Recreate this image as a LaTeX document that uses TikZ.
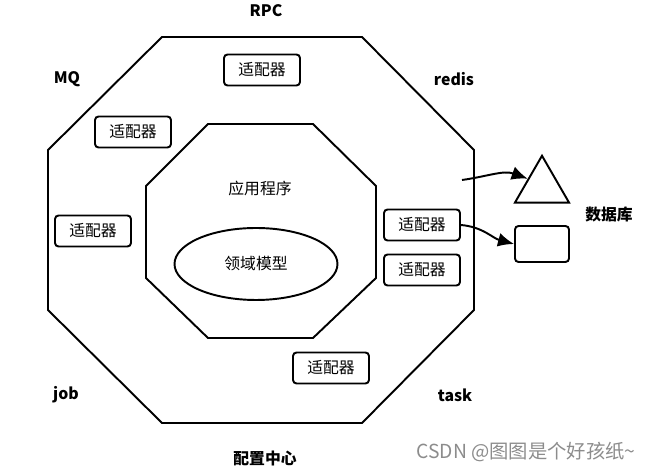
\documentclass[tikz,border=0pt]{standalone}
\usepackage{fontspec}
\setmainfont{Noto Sans CJK SC}
\usepackage{tikz}
\usetikzlibrary{arrows.meta}
\usetikzlibrary{shapes.geometric}
\tikzset{
adapter/.style={draw,
  rounded corners=2pt,
    minimum width=1.52cm,
    minimum height=0.62cm,
    inner sep=0pt,
    font=\fontsize{9}{10}\selectfont},
tag/.style={font=\bfseries\fontsize{9}{10}\selectfont},
}
\tikzset{plain/.style={font=\fontsize{9}{10}\selectfont}}

\begin{document}
\begin{tikzpicture}[x=0.02cm, y=-0.02cm, line width=1.1pt]
    \useasboundingbox (0,0) rectangle (650,472);

    % outer ring and inner ring
    \draw (162,37) -- (362,37) -- (474,150) -- (474,310) -- (362,423) -- (162,423) -- (48,310) -- (48,150) -- cycle;
    \draw (208,124) -- (313,124) -- (376,186) -- (376,278) -- (313,338) -- (208,338) -- (146,278) -- (146,186) -- cycle;

    \node [plain] (app) at (260,188) {应用程序};
    \node [draw, ellipse, plain, inner sep=0pt, minimum width=3.26cm, minimum height=1.44cm] (dom) at (256,264) {领域模型};

    \node [adapter] (ad1) at (262,70)  {适配器};
    \node [adapter] (ad2) at (133,132) {适配器};
    \node [adapter] (ad3) at (93,231)  {适配器};
    \node [adapter] (ad4) at (422,225) {适配器};
    \node [adapter] (ad5) at (422,270) {适配器};
    \node [adapter] (ad6) at (331,368) {适配器};

    \node [tag] (rpc)   at (266,11)  {RPC};
    \node [tag] (mq)    at (67,79)   {MQ};
    \node [tag] (redis) at (454,79)  {redis};
    \node [tag] (job)   at (66,395)  {job};
    \node [tag] (task)  at (455,395) {task};
    \node [tag] (cfg)   at (265,458) {配置中心};
    \node [tag] (db)    at (609,214) {数据库};

    \node [draw, regular polygon, regular polygon sides=3, inner sep=0pt, minimum size=1.25cm] (tri) at (542,187) {};
    \node [draw, rounded corners=2pt, minimum width=1.08cm, minimum height=0.72cm] (box) at (542,244) {};

    \coordinate (s1) at (462,180);
  \draw [-{Latex[length=0.32cm,width=0.28cm]}] (s1) to[out=8,in=160] (tri.side 1);
  \draw [-{Latex[length=0.32cm,width=0.28cm]}] (ad4.east) to[out=-5,in=165] (box.west);

    \node [text=black!45, font=\fontsize{11}{13}\selectfont] (wm) at (526,452) {CSDN @图图是个好孩纸\textasciitilde};
  \end{tikzpicture}
\end{document}
